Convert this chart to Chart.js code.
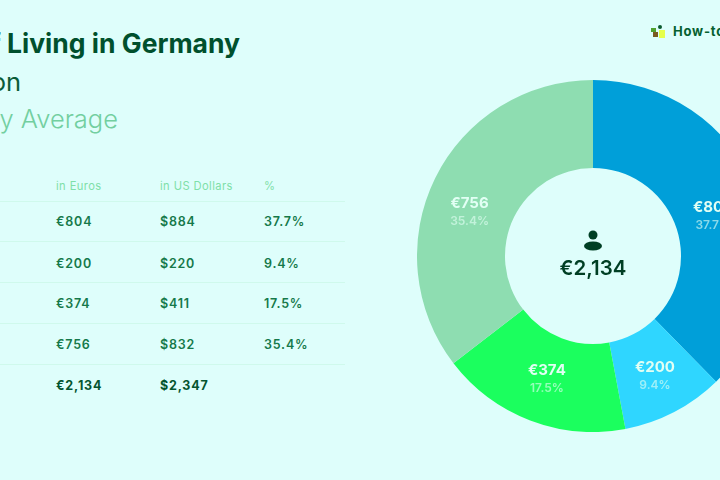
<!DOCTYPE html>
<html>
<head>
<meta charset="utf-8">
<title>Cost of Living in Germany</title>
<script src="https://cdn.jsdelivr.net/npm/chart.js@4"></script>
<style>
    html, body { margin: 0; height: 100%; overflow: hidden; background: #DEFEFB; }
    body { position: relative; width: 720px; height: 480px; font-family: Inter, "Noto Sans", sans-serif; }
    .heading { position: absolute; white-space: nowrap; font-size: 25.5px; line-height: 30px; }
    #title { top: 28px; right: 480px; font-size: 26.5px; font-weight: 700; color: #00502D; }
    #subtitle { top: 67px; right: 699px; color: #0A5C38; }
    #period { top: 104px; right: 602px; color: #72CFA0; font-weight: 300; }
    .cell { position: absolute; white-space: nowrap; font-size: 12.5px; line-height: 16px; font-weight: 600; letter-spacing: 0.8px; color: #15794A; }
    .cell.head { font-size: 11.2px; font-weight: 400; letter-spacing: 0.4px; color: #7FE0A8; }
    .cell.total { font-weight: 700; color: #04552F; }
    .rule { position: absolute; left: 0; width: 345px; height: 1px; background: #CFF9EC; }
    #brand { position: absolute; left: 673px; top: 22px; font-size: 13px; line-height: 18px; font-weight: 700; letter-spacing: 0.8px; white-space: nowrap; color: #05602F; }
    .dot { position: absolute; }
    #donut { position: absolute; left: 417px; top: 80px; }
</style>
</head>
<body>
<div class="heading" id="title">Cost of Living in Germany</div>
<div class="heading" id="subtitle">on</div>
<div class="heading" id="period">Monthly Average</div>

<div class="dot" style="left:658px;top:25px;width:4px;height:4px;border-radius:2px;background:#0B5A2E"></div>
<div class="dot" style="left:651px;top:28px;width:5px;height:4px;background:#4FA02F"></div>
<div class="dot" style="left:653px;top:32px;width:5px;height:5px;background:#7A5A20"></div>
<div class="dot" style="left:659px;top:30px;width:6px;height:8px;background:#E6FF4A"></div>
<div id="brand">How-to-Germany</div>

<div id="table"></div>
<canvas id="donut" width="352" height="352"></canvas>

<script>
const tableHeaders = ["in Euros", "in US Dollars", "%"];
const euroValues = [804, 200, 374, 756];
const dollarValues = [884, 220, 411, 832];
const shareValues = [37.7, 9.4, 17.5, 35.4];
const euroTotal = 2134;
const dollarTotal = 2347;

const sliceColors = ["#009FD9", "#2FD6FF", "#1BFF5E", "#8EDDB1"];

const euro = v => "€" + v.toLocaleString("en-US");
const dollar = v => "$" + v.toLocaleString("en-US");
const percent = v => v.toFixed(1) + "%";

// Table on the left
const columnX = [56, 160, 264];
const rowY = [222, 264, 304, 345, 386];
const ruleY = [201, 241, 282, 323, 364];
const table = document.getElementById("table");

function addCell(text, x, y, cls) {
    const el = document.createElement("div");
    el.className = "cell " + cls;
    el.textContent = text;
    el.style.left = x + "px";
    el.style.top = (y - 8) + "px";
    table.appendChild(el);
}

tableHeaders.forEach((h, i) => addCell(h, columnX[i], 186, "head"));
euroValues.forEach((v, i) => {
    addCell(euro(v), columnX[0], rowY[i], "");
    addCell(dollar(dollarValues[i]), columnX[1], rowY[i], "");
    addCell(percent(shareValues[i]), columnX[2], rowY[i], "");
});
addCell(euro(euroTotal), columnX[0], rowY[4], "total");
addCell(dollar(dollarTotal), columnX[1], rowY[4], "total");

ruleY.forEach(y => {
    const el = document.createElement("div");
    el.className = "rule";
    el.style.top = y + "px";
    table.appendChild(el);
});

// Nudges for the slice labels, relative to each arc's middle
const labelNudge = [[-2, 10], [1, 3], [1, 0], [-5, 15]];

const sliceLabels = {
    id: "sliceLabels",
    afterDatasetsDraw(chart) {
        const ctx = chart.ctx;
        const arcs = chart.getDatasetMeta(0).data;
        ctx.save();
        ctx.textAlign = "center";
        ctx.textBaseline = "middle";
        arcs.forEach((arc, i) => {
            const pos = arc.tooltipPosition();
            const x = pos.x + labelNudge[i][0];
            const y = pos.y + labelNudge[i][1];
            ctx.font = "700 15px Inter";
            ctx.fillStyle = "#E2FFF4";
            ctx.fillText(euro(euroValues[i]), x, y - 9);
            ctx.font = "600 12px Inter";
            ctx.fillStyle = "rgba(226,255,244,0.62)";
            ctx.fillText(percent(shareValues[i]), x, y + 9);
        });
        ctx.restore();
    }
};

// Person icon and total in the hole
const centerTotal = {
    id: "centerTotal",
    afterDraw(chart) {
        const ctx = chart.ctx;
        const arc = chart.getDatasetMeta(0).data[0];
        const cx = arc.x, cy = arc.y;
        ctx.save();
        ctx.fillStyle = "#003F24";
        ctx.beginPath();
        ctx.arc(cx, cy - 21, 4.5, 0, Math.PI * 2);
        ctx.fill();
        ctx.beginPath();
        ctx.ellipse(cx, cy - 10, 9, 4.5, 0, 0, Math.PI * 2);
        ctx.fill();
        ctx.font = "600 20.5px Inter";
        ctx.textAlign = "center";
        ctx.textBaseline = "middle";
        ctx.fillText(euro(euroTotal), cx, cy + 13);
        ctx.restore();
    }
};

new Chart(document.getElementById("donut").getContext("2d"), {
    type: "doughnut",
    data: {
        labels: euroValues.map(euro),
        datasets: [{
            data: euroValues,
            backgroundColor: sliceColors,
            borderWidth: 0
        }]
    },
    options: {
        responsive: false,
        animation: false,
        cutout: "50%",
        events: [],
        plugins: {
            legend: { display: false },
            tooltip: { enabled: false }
        }
    },
    plugins: [sliceLabels, centerTotal]
});
</script>
</body>
</html>
